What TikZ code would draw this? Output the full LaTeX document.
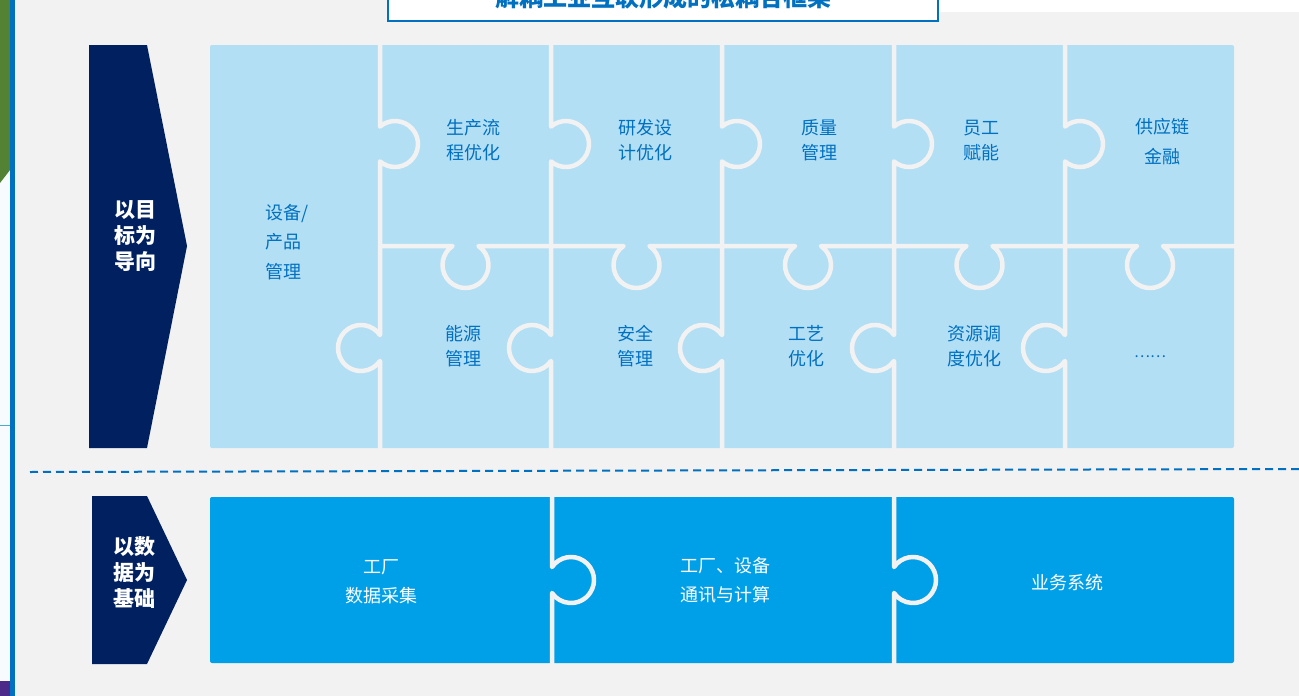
\documentclass[tikz,border=0pt]{standalone}
\usepackage{fontspec}
\newfontfamily\cjk{Noto Sans CJK SC}
\definecolor{bggray}{HTML}{F2F2F2}
\definecolor{navy}{HTML}{002060}
\definecolor{lblue}{HTML}{B3DFF5}
\definecolor{dblue}{HTML}{00A0E9}
\definecolor{tblue}{HTML}{0070C0}
\definecolor{sidegreen}{HTML}{548235}
\definecolor{sidepale}{HTML}{F7FBFE}
\definecolor{sideteal}{HTML}{4BACC6}
\definecolor{sidepurple}{HTML}{4B2A8A}
\begin{document}
\begin{tikzpicture}[x=1pt,y=1pt,
  sep/.style={draw=bggray,line width=4.5,line join=round},
  ltxt/.style={font=\cjk\fontsize{18}{25}\selectfont,text=tblue,align=center,inner sep=0},
  ltxtw/.style={font=\cjk\fontsize{18}{30}\selectfont,text=tblue,align=center,inner sep=0},
  dtxt/.style={font=\cjk\fontsize{18}{29}\selectfont,text=white,align=center,inner sep=0},
  atxt/.style={font=\cjk\bfseries\fontsize{21}{26}\selectfont,text=white,align=center,inner sep=0},
  ttxt/.style={font=\cjk\bfseries\fontsize{24}{28}\selectfont,text=tblue,inner sep=0}]
\useasboundingbox (0,0) rectangle (1299,-696);
\clip (0,0) rectangle (1299,-696);
% background and slide edges
\fill[bggray] (15,0) rectangle (1299,-696);
\fill[white] (938,0) rectangle (1299,-12);
\fill[sidepale] (0,0) rectangle (10,-696);
\fill[sidegreen] (0,0) -- (10,0) -- (10,-170) -- (0,-183) -- cycle;
\draw[sideteal,line width=1] (0,-425.5) -- (10,-425.5);
\fill[sidepurple] (0,-681) rectangle (10,-696);
\fill[tblue] (10,0) rectangle (15,-696);
% title box
\filldraw[fill=white,draw=tblue,line width=2] (388,3) -- (388,-21) -- (938,-21) -- (938,3);
\node[ttxt,anchor=base] (title) at (663,-6) {解耦工业互联形成的松耦合框架};
% left arrows
\fill[navy] (89,-45) -- (147,-45) -- (187,-246) -- (147,-448) -- (89,-448) -- cycle;
\fill[navy] (92,-496) -- (147,-496) -- (187,-580) -- (147,-664) -- (92,-664) -- cycle;
\node[atxt] (goal) at (135,-236) {以目\\标为\\导向};
\node[atxt] (data) at (134,-573) {以数\\据为\\基础};
% upper puzzle
\fill[lblue,rounded corners=2] (210,-45) rectangle (1234,-448);
\foreach \X in {380,551,722,894,1065}{
  \draw[sep] (\X,-40) -- (\X,-126.56) arc[start angle=130.7,end angle=-130.7,radius=23]
     -- (\X,-335.04) arc[start angle=34.3,end angle=325.7,radius=23] -- (\X,-453);
}
\draw[sep] (380,-246) foreach \c in {465.5,636.5,808,979.5,1150}{
   -- ({\c-12.96},-246) arc[start angle=124.3,end angle=415.7,radius=23] } -- (1240,-246);
% lower puzzle
\fill[dblue,rounded corners=2] (210,-497) rectangle (1234,-663);
\foreach \X in {552,894}{
  \draw[sep] (\X,-492) -- (\X,-567.04) arc[start angle=145.7,end angle=-145.7,radius=23] -- (\X,-668);
}
% dashed divider
\coordinate (dl) at (30,-472);
\coordinate (dr) at (1299,-469);
\draw[tblue,line width=2,dash pattern=on 8 off 5] (dl) -- (dr);
% texts upper
\node[font=\cjk\fontsize{18}{29.5}\selectfont,text=tblue,align=left,inner sep=0,anchor=west] (p1) at (265,-242) {设备/\\产品\\管理};
\node[ltxt] (p2) at (473,-140.5) {生产流\\程优化};
\node[ltxt] (p3) at (645,-140.5) {研发设\\计优化};
\node[ltxt] (p4) at (819,-140.5) {质量\\管理};
\node[ltxt] (p5) at (981,-140.5) {员工\\赋能};
\node[ltxtw] (p6) at (1162,-141.5) {供应链\\金融};
\node[ltxt] (q1) at (463,-346.5) {能源\\管理};
\node[ltxt] (q2) at (635,-346.5) {安全\\管理};
\node[ltxt] (q3) at (806,-346.5) {工艺\\优化};
\node[ltxt] (q4) at (974,-346.5) {资源调\\度优化};
\node[font=\cjk\fontsize{15}{18}\selectfont,text=tblue,inner sep=0] (q5) at (1150,-357) {……};
% texts lower
\node[dtxt] (d1) at (381,-581.5) {工厂\\数据采集};
\node[dtxt] (d2) at (725,-580.5) {工厂、设备\\通讯与计算};
\node[dtxt] (d3) at (1067,-583) {业务系统};
\end{tikzpicture}
\end{document}
